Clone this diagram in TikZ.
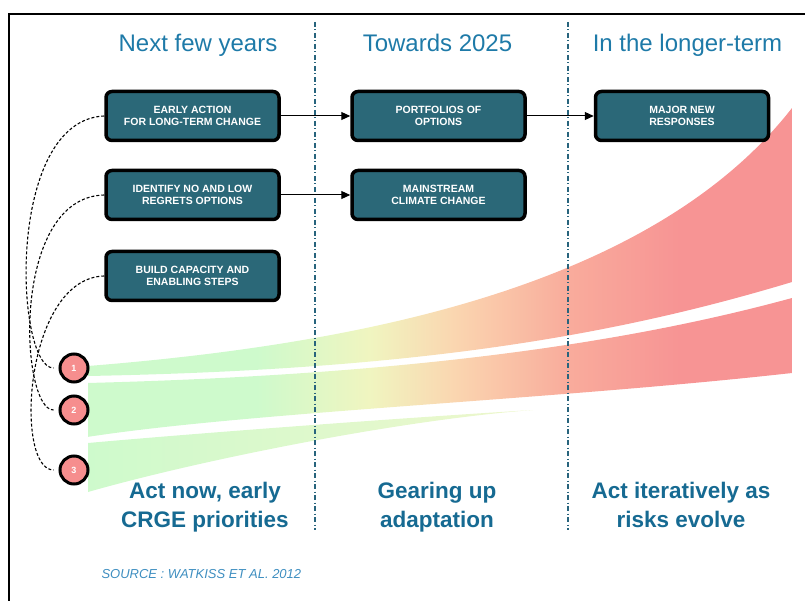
\documentclass[tikz,border=0pt]{standalone}
\usepackage{fontspec}
\setmainfont{Liberation Sans}
\usetikzlibrary{arrows.meta}

\definecolor{boxteal}{RGB}{43,104,120}
\definecolor{headblue}{RGB}{30,122,168}
\definecolor{phaseblue}{RGB}{22,106,146}
\definecolor{srcblue}{RGB}{62,142,192}
\definecolor{divblue}{RGB}{40,100,125}
\definecolor{dotpink}{RGB}{246,142,142}
\definecolor{bandgreen}{RGB}{206,250,204}
\definecolor{bandyellow}{RGB}{240,245,192}
\definecolor{bandpeach}{RGB}{250,214,176}
\definecolor{bandsalmon}{RGB}{249,172,156}
\definecolor{bandred}{RGB}{247,148,148}
\definecolor{bandpale}{RGB}{238,247,204}

% the middle 50bp of the shading covers the band
\pgfdeclarehorizontalshading{riskramp}{100bp}{color(0bp)=(bandgreen); color(37bp)=(bandgreen); color(45bp)=(bandyellow); color(51bp)=(bandpeach); color(59bp)=(bandsalmon); color(67bp)=(bandred); color(100bp)=(bandred)}

\begin{document}
\begin{tikzpicture}[x=1pt,y=-1pt,
        stepbox/.style={draw=black,line width=3.5pt,rounded corners=6pt,fill=boxteal,text=white,
          minimum width=173pt,minimum height=49pt,inner sep=0pt,align=center,
          font=\fontsize{10.5}{12.5}\selectfont\bfseries},
        numdot/.style={circle,draw=black,line width=3pt,fill=dotpink,text=white,
          minimum size=28pt,inner sep=0pt,font=\fontsize{9}{9}\selectfont\bfseries},
        period/.style={text=headblue,font=\fontsize{24}{28}\selectfont,anchor=base},
        phase/.style={text=phaseblue,font=\fontsize{22.5}{29}\selectfont\bfseries,align=center,anchor=base},
        link/.style={-{Triangle[length=9pt,width=8pt]},line width=1pt},
        tie/.style={dash pattern=on 3pt off 2pt,line width=1.1pt,shorten >=5pt},
        divider/.style={draw=divblue,line width=1.2pt,dash pattern=on 5pt off 2.5pt on 1pt off 2.5pt}]
        \useasboundingbox (0,0) rectangle (805,601);

        % draw frame
        \draw[line width=2pt] (9,601) -- (9,14) -- (805,14);

        % draw risk bands
        \begin{scope}
          \clip (88,366) .. controls (350,345) and (650,290) .. (792,108) -- (792,282)
            .. controls (600,340) and (400,370) .. (88,376) -- cycle;
          \shade[shading=riskramp] (88,100) rectangle (792,500);
        \end{scope}
        \begin{scope}
          \clip (87,383) .. controls (400,375) and (620,345) .. (792,298) -- (792,373)
            .. controls (550,400) and (250,412) .. (87,437) -- cycle;
          \shade[shading=riskramp] (88,100) rectangle (792,500);
        \end{scope}
        \begin{scope}
          \clip (88,443) .. controls (200,433) and (400,418) .. (533,410)
            .. controls (400,420) and (200,460) .. (88,492) -- cycle;
          \shade[left color=bandgreen,right color=bandpale] (88,405) rectangle (533,495);
        \end{scope}

        % draw dividers
        \foreach \x in {315,568}
          \draw[divider] (\x,22) -- (\x,530);

        % draw headers
        \node[period] (nearterm) at (198,52) {Next few years};
        \node[period] (midterm) at (437.5,52) {Towards 2025};
        \node[period] (longterm) at (687.5,52) {In the longer-term};

        % draw boxes
        \node[stepbox] (early) at (192.5,116) {EARLY ACTION\\FOR LONG-TERM CHANGE};
        \node[stepbox] (noregret) at (192.5,195) {IDENTIFY NO AND LOW\\REGRETS OPTIONS};
        \node[stepbox] (capacity) at (192.5,276) {BUILD CAPACITY AND\\ENABLING STEPS};
        \node[stepbox] (portfolio) at (438.5,116) {PORTFOLIOS OF\\OPTIONS};
        \node[stepbox] (mainstream) at (438.5,195) {MAINSTREAM\\CLIMATE CHANGE};
        \node[stepbox] (major) at (682,116) {MAJOR NEW\\RESPONSES};

        % draw arrows
        \draw[link] (early) -- (portfolio);
        \draw[link] (portfolio) -- (major);
        \draw[link] (noregret) -- (mainstream);

        % draw numbered dots
        \foreach \n/\y in {1/368,2/410,3/470}
          \node[numdot] (dot\n) at (74,\y) {\n};

        % draw dashed ties
        \draw[tie] (early.west) .. controls (5,120) and (15,368) .. (dot1.west);
        \draw[tie] (noregret.west) .. controls (10,197) and (20,410) .. (dot2.west);
        \draw[tie] (capacity.west) .. controls (24,278) and (14,470) .. (dot3.west);

        % draw phase labels
        \node[phase] (actnow) at (205,527) {Act now, early\\CRGE priorities};
        \node[phase] (gearing) at (437,527) {Gearing up\\adaptation};
        \node[phase] (iterate) at (681,527) {Act iteratively as\\risks evolve};

        % draw source
        \node[anchor=base west,text=srcblue,font=\fontsize{13}{15}\selectfont\itshape] (source) at (98,578) {SOURCE : WATKISS ET AL. 2012};
\end{tikzpicture}
\end{document}
